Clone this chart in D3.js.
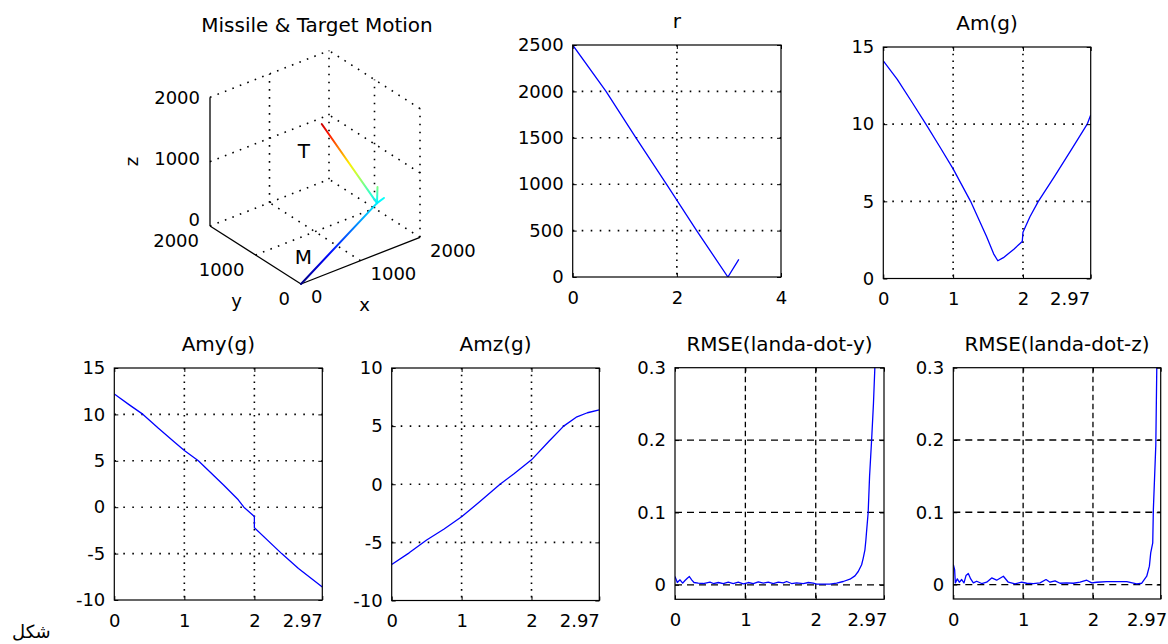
<!DOCTYPE html>
<html><head><meta charset="utf-8">
<script src="https://cdn.jsdelivr.net/npm/d3@7"></script>
<style>
body{margin:0;background:#fff}
svg{display:block;background:#fff}
text{font-family:"DejaVu Sans",sans-serif;fill:#000}
</style>
</head><body>
<svg id="c" width="1168" height="644"></svg>
<script>
// ---------------- DATA ----------------
const rTime  = [0, 0.64, 1.215, 1.8, 2.38, 2.98, 3.19];
const rValue = [2500, 2000, 1500, 1000, 500, 0, 190];

const amTime  = [0, 0.2, 0.4, 0.61, 0.8, 1.0, 1.25, 1.48, 1.58, 1.64, 1.72, 1.87, 1.99, 2.0, 2.1, 2.22, 2.45, 2.7, 2.92, 2.97];
const amValue = [14.1, 12.9, 11.5, 10.0, 8.6, 7.1, 5.0, 2.7, 1.6, 1.15, 1.35, 1.9, 2.4, 3.0, 4.0, 5.0, 6.6, 8.4, 10.0, 10.6];

const amyTime  = [0, 0.22, 0.41, 0.63, 0.87, 1.0, 1.2, 1.56, 1.77, 1.85, 2.0, 2.0, 2.39, 2.63, 2.97];
const amyValue = [12.2, 11.0, 10.0, 8.5, 6.95, 6.1, 5.0, 2.4, 0.8, 0, -1.0, -2.2, -5.0, -6.6, -8.6];

const amzTime  = [0, 0.25, 0.5, 0.75, 1.0, 1.25, 1.55, 1.75, 2.0, 2.25, 2.46, 2.65, 2.8, 2.97];
const amzValue = [-6.9, -5.9, -4.8, -3.85, -2.8, -1.55, 0, 0.9, 2.1, 3.7, 5.0, 5.8, 6.15, 6.4];

const rmseYTime = [0,0.033,0.071,0.109,0.142,0.175,0.204,0.237,0.27,0.331,
  0.402,0.497,0.545,0.616,0.687,0.757,0.828,0.899,0.97,1.042,
  1.113,1.184,1.255,1.326,1.397,1.468,1.539,1.586,1.657,1.728,
  1.823,1.894,1.965,2.012,2.202,2.296,2.391,2.486,2.557,2.604,
  2.652,2.675,2.699,2.713,2.72,2.745,2.765,2.794,2.82,2.84,2.86];
const rmseYValue = [0.0115,0.0032,0.0069,0.0023,0.006,0.0092,0.0115,0.0069,0.0032,0.0023,
  0.0018,0.0037,0.0018,0.0032,0.0018,0.0037,0.0018,0.0037,0.0014,0.0032,
  0.0018,0.0041,0.0023,0.0037,0.0018,0.0037,0.0028,0.0046,0.0018,0.0028,
  0.0018,0.0032,0.0023,0.0009,0.0009,0.0023,0.0046,0.0078,0.0124,0.0184,
  0.0277,0.0369,0.0484,0.0622,0.071,0.1,0.15,0.2,0.25,0.3,0.36];

const rmseZTime = [0,0.019,0.029,0.058,0.086,0.12,0.153,0.182,0.215,0.249,
  0.287,0.335,0.406,0.478,0.55,0.621,0.717,0.788,0.884,0.979,
  1.051,1.146,1.242,1.328,1.385,1.457,1.529,1.624,1.72,1.815,
  1.911,1.982,2.054,2.197,2.484,2.627,2.699,2.77,2.808,2.827,
  2.856,2.865,2.9,2.914,2.93];
const rmseZValue = [0.028,0.0207,0.0023,0.0078,0.0032,0.0069,0.0023,0.0124,0.0152,0.0078,
  0.0023,0.0046,0.0014,0.0032,0.0092,0.006,0.0115,0.0032,0.0009,0.0032,
  0.0018,0.0014,0.0023,0.0069,0.0032,0.0051,0.0018,0.0023,0.0018,0.0032,
  0.006,0.0023,0.0032,0.0041,0.0041,0.0009,0.0018,0.0115,0.0254,0.0438,
  0.0576,0.104,0.193,0.3,0.38];

// 3D trajectories (x, y, z)
const missilePath = [[0,0,0],[1586,404,500],[1700,400,540]];
const targetPath  = [[1461,1455,1300],[1586,404,500],[1645,470,700]];
const labels3D = [{text:"T", p:[1150,1440,1000]}, {text:"M", p:[470,560,0]}];

// ticks
const rXTicks = [0,2,4], rYTicks = [0,500,1000,1500,2000,2500];
const tXTicks = [0,1,2,2.97];
const amYTicks = [0,5,10,15];
const amyYTicks = [-10,-5,0,5,10,15];
const amzYTicks = [-10,-5,0,5,10];
const rmseYTicks = [0,0.1,0.2,0.3];
const ticks3D = [0,1000,2000];

// ---------------- DRAW ----------------
const svg = d3.select("#c");
const defs = svg.append("defs");
const TICK_FS = 18, TITLE_FS = 20;

function panel(cfg){
  const x = d3.scaleLinear().domain(cfg.xDomain).range([cfg.left, cfg.right]);
  const y = d3.scaleLinear().domain(cfg.yDomain).range([cfg.bottom, cfg.top]);
  const g = svg.append("g");
  const dashed = cfg.grid === "dash";
  const gx = cfg.xTicks.filter(v => v > cfg.xDomain[0] && v < cfg.xDomain[1]);
  const gy = cfg.yTicks.filter(v => v > cfg.yDomain[0] && v < cfg.yDomain[1]);
  g.selectAll(".gx").data(gx).join("line")
    .attr("x1", d => x(d)).attr("x2", d => x(d))
    .attr("y1", cfg.top).attr("y2", cfg.bottom)
    .attr("stroke", "#000").attr("stroke-width", dashed ? 1.3 : 1.6)
    .attr("stroke-dasharray", dashed ? "5.5,3.5" : "1.6,5.1");
  g.selectAll(".gy").data(gy).join("line")
    .attr("y1", d => y(d)).attr("y2", d => y(d))
    .attr("x1", cfg.left).attr("x2", cfg.right)
    .attr("stroke", "#000").attr("stroke-width", dashed ? 1.3 : 1.6)
    .attr("stroke-dasharray", dashed ? "7,5" : "1.6,7.4");

  const cid = "clip" + cfg.id;
  defs.append("clipPath").attr("id", cid).append("rect")
    .attr("x", cfg.left).attr("y", cfg.top)
    .attr("width", cfg.right - cfg.left).attr("height", cfg.bottom - cfg.top);
  const line = d3.line().x((d,i) => x(cfg.t[i])).y((d,i) => y(cfg.v[i]));
  g.append("path").datum(cfg.v).attr("d", line)
    .attr("fill", "none").attr("stroke", "#0000ff").attr("stroke-width", 1.3)
    .attr("stroke-linejoin", "round")
    .attr("clip-path", `url(#${cid})`);

  // axes
  const fmt = d => String(d);
  const bottom = g.append("g").attr("transform", `translate(0,${cfg.bottom})`)
    .call(d3.axisBottom(x).tickValues(cfg.xTicks).tickSize(-4).tickPadding(14).tickFormat(fmt));
  g.append("g").attr("transform", `translate(0,${cfg.top})`)
    .call(d3.axisTop(x).tickValues(cfg.xTicks).tickSize(-4).tickFormat(""));
  g.append("g").attr("transform", `translate(${cfg.left},0)`)
    .call(d3.axisLeft(y).tickValues(cfg.yTicks).tickSize(-4).tickPadding(9).tickFormat(fmt));
  g.append("g").attr("transform", `translate(${cfg.right},0)`)
    .call(d3.axisRight(y).tickValues(cfg.yTicks).tickSize(-4).tickFormat(""));
  g.selectAll(".domain").remove();
  g.selectAll(".tick line").attr("stroke", "#000");
  g.selectAll(".tick text").attr("font-size", TICK_FS).attr("font-family", "DejaVu Sans").attr("fill", "#000");
  if (cfg.lastDx !== undefined) {
    bottom.selectAll(".tick text").filter(d => d === 2.97)
      .attr("text-anchor", "end").attr("dx", cfg.lastDx);
  }
  // box
  g.append("rect").attr("x", cfg.left).attr("y", cfg.top)
    .attr("width", cfg.right - cfg.left).attr("height", cfg.bottom - cfg.top)
    .attr("fill", "none").attr("stroke", "#000").attr("stroke-width", 1.2);
  g.append("text").attr("x", (cfg.left + cfg.right) / 2).attr("y", cfg.top - 17)
    .attr("text-anchor", "middle").attr("font-size", TITLE_FS).text(cfg.title);
}

panel({id:"r", left:572.7, right:781, top:45, bottom:277, xDomain:[0,4], yDomain:[0,2500],
  xTicks:rXTicks, yTicks:rYTicks, t:rTime, v:rValue, title:"r", grid:"dot"});
panel({id:"am", left:883.3, right:1090.7, top:47, bottom:278.5, xDomain:[0,2.97], yDomain:[0,15],
  xTicks:tXTicks, yTicks:amYTicks, t:amTime, v:amValue, title:"Am(g)", grid:"dot", lastDx:-1});
panel({id:"amy", left:114.3, right:322.3, top:368, bottom:600, xDomain:[0,2.97], yDomain:[-10,15],
  xTicks:tXTicks, yTicks:amyYTicks, t:amyTime, v:amyValue, title:"Amy(g)", grid:"dot", lastDx:0});
panel({id:"amz", left:391.7, right:599.3, top:368, bottom:600.5, xDomain:[0,2.97], yDomain:[-10,10],
  xTicks:tXTicks, yTicks:amzYTicks, t:amzTime, v:amzValue, title:"Amz(g)", grid:"dot", lastDx:0});
panel({id:"ry", left:675, right:884, top:367.7, bottom:599.3, xDomain:[0,2.97], yDomain:[-0.02,0.3],
  xTicks:tXTicks, yTicks:rmseYTicks, t:rmseYTime, v:rmseYValue, title:"RMSE(landa-dot-y)", grid:"dash", lastDx:3});
panel({id:"rz", left:953.3, right:1160.7, top:367.7, bottom:599, xDomain:[0,2.97], yDomain:[-0.02,0.3],
  xTicks:tXTicks, yTicks:rmseYTicks, t:rmseZTime, v:rmseZValue, title:"RMSE(landa-dot-z)", grid:"dash", lastDx:6});

// ---------------- 3D panel ----------------
const s3x = d3.scaleLinear().domain([0,2000]).range([0,1]);
const s3y = d3.scaleLinear().domain([0,2000]).range([0,1]);
const s3z = d3.scaleLinear().domain([0,2000]).range([0,1]);
const O = [301,284], EX = [119,-46.7], EY = [-91,-58], EZ = [0,-128.7];
function proj(p){
  const a = s3x(p[0]), b = s3y(p[1]), c = s3z(p[2]);
  return [O[0] + a*EX[0] + b*EY[0] + c*EZ[0], O[1] + a*EX[1] + b*EY[1] + c*EZ[1]];
}
const g3 = svg.append("g");
const M3 = ticks3D[ticks3D.length-1];
const dotted = [];
ticks3D.filter(v => v > 0).forEach(v => {
  dotted.push([[v,0,0],[v,M3,0]]);      // floor, const x
  dotted.push([[0,v,0],[M3,v,0]]);      // floor, const y
  dotted.push([[v,M3,0],[v,M3,M3]]);    // back wall verticals
  dotted.push([[0,M3,v],[M3,M3,v]]);    // back wall horizontals
  dotted.push([[M3,0,v],[M3,M3,v]]);    // side wall horizontals
});
ticks3D.filter(v => v < M3).forEach(v => dotted.push([[M3,v,0],[M3,v,M3]])); // side wall verticals
g3.selectAll(".d3g").data(dotted).join("line")
  .attr("x1", d => proj(d[0])[0]).attr("y1", d => proj(d[0])[1])
  .attr("x2", d => proj(d[1])[0]).attr("y2", d => proj(d[1])[1])
  .attr("stroke", "#000").attr("stroke-width", 1.6).attr("stroke-dasharray", "1.6,6.4");
const solid = [[[0,0,0],[M3,0,0]], [[0,0,0],[0,M3,0]], [[0,M3,0],[0,M3,M3]]];
g3.selectAll(".d3s").data(solid).join("line")
  .attr("x1", d => proj(d[0])[0]).attr("y1", d => proj(d[0])[1])
  .attr("x2", d => proj(d[1])[0]).attr("y2", d => proj(d[1])[1])
  .attr("stroke", "#000").attr("stroke-width", 1.3);

// tick labels
const zLabelShift = [-6, -2.5, 0];
ticks3D.forEach((v, i) => {
  const pz = proj([0,M3,v]);
  g3.append("text").attr("x", pz[0]-10).attr("y", pz[1] + zLabelShift[i]).attr("dy","0.35em")
    .attr("text-anchor","end").attr("font-size",TICK_FS).text(v);
  const py = proj([0,v,0]);
  g3.append("text").attr("x", py[0]-11).attr("y", py[1]+15).attr("dy","0.35em")
    .attr("text-anchor","end").attr("font-size",TICK_FS).text(v);
  const px = proj([v,0,0]);
  g3.append("text").attr("x", px[0]+10).attr("y", px[1]+13).attr("dy","0.35em")
    .attr("text-anchor","start").attr("font-size",TICK_FS).text(v);
});
const mx = proj([M3/2,0,0]), my = proj([0,M3/2,0]), mz = proj([0,M3,M3/2]);
g3.append("text").attr("x", mx[0]+4).attr("y", mx[1]+44).attr("dy","0.35em")
  .attr("text-anchor","middle").attr("font-size",TICK_FS).text("x");
g3.append("text").attr("x", my[0]-19).attr("y", my[1]+46).attr("dy","0.35em")
  .attr("text-anchor","middle").attr("font-size",TICK_FS).text("y");
g3.append("text").attr("transform", `translate(${mz[0]-78},${mz[1]}) rotate(-90)`).attr("dy","0.35em")
  .attr("text-anchor","middle").attr("font-size",TICK_FS).text("z");

// jet colouring by altitude
const jet = d3.scaleLinear().domain([0,.125,.375,.625,.875,1])
  .range(["#000080","#0000ff","#00ffff","#ffff00","#ff0000","#800000"]);
const zColor = d3.scaleLinear().domain([0,1400]).range([0,1]).clamp(true);
function drawPath3(pts, name){
  for (let i = 0; i < pts.length - 1; i++) {
    const a = pts[i], b = pts[i+1], sa = proj(a), sb = proj(b);
    const id = `grad-${name}-${i}`;
    const lg = defs.append("linearGradient").attr("id", id).attr("gradientUnits","userSpaceOnUse")
      .attr("x1", sa[0]).attr("y1", sa[1]).attr("x2", sb[0]).attr("y2", sb[1]);
    d3.range(9).forEach(k => {
      lg.append("stop").attr("offset", k/8)
        .attr("stop-color", jet(zColor(a[2] + (b[2]-a[2])*k/8)));
    });
    g3.append("line").attr("x1", sa[0]).attr("y1", sa[1]).attr("x2", sb[0]).attr("y2", sb[1])
      .attr("stroke", `url(#${id})`).attr("stroke-width", 2).attr("stroke-linecap","round");
  }
}
drawPath3(targetPath, "t");
drawPath3(missilePath, "m");
labels3D.forEach(l => {
  const p = proj(l.p);
  g3.append("text").attr("x", p[0]).attr("y", p[1]).attr("dy","0.35em")
    .attr("text-anchor","middle").attr("font-size", 20).text(l.text);
});
const xs = [proj([0,M3,M3])[0], proj([M3,0,M3])[0]];
g3.append("text").attr("x", (xs[0]+xs[1])/2 + 2).attr("y", proj([M3,M3,M3])[1]-19)
  .attr("text-anchor","middle").attr("font-size",TITLE_FS).text("Missile & Target Motion");

// caption
svg.append("text").attr("x", 12).attr("y", 638).attr("font-size", 18).text("شکل");
</script>
</body></html>
